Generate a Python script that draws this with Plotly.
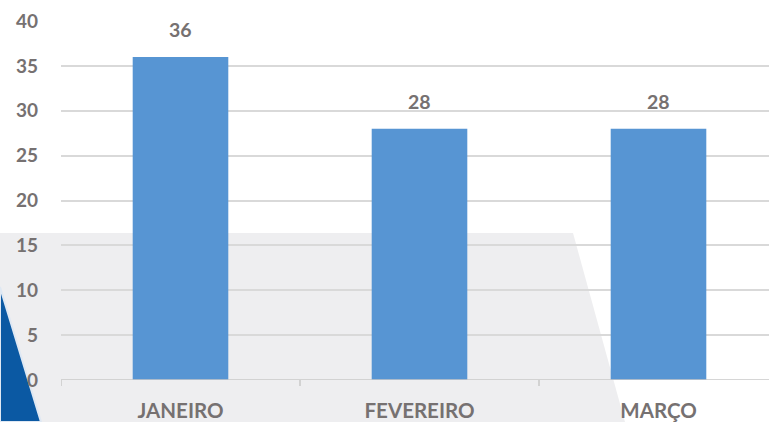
import plotly.graph_objects as go

categories = ["JANEIRO", "FEVEREIRO", "MARÇO"]
values = [36, 28, 28]
y_ticks = [0, 5, 10, 15, 20, 25, 30, 35, 40]

W, H = 769, 422
X0, X1, Y0, Y1 = 61, 769, 21, 380
L, T = X0, Y0
pw, ph = X1 - X0, Y1 - Y0
R = W - L - pw
B = H - T - ph

def px(x):
    return (x - X0) / pw

def py(y):
    return (Y1 - y) / ph

text_color = "#767171"
font_family = "Lato, 'Open Sans', sans-serif"

fig = go.Figure()
fig.add_trace(go.Bar(
    x=[0, 1, 2],
    y=values,
    width=0.40,
    marker=dict(color="#5795d3", line=dict(width=0)),
    cliponaxis=False,
))

for i, v in enumerate(values):
    fig.add_annotation(x=i, y=v, text=str(v), showarrow=False, yanchor="bottom",
                       yshift=14,
                       font=dict(size=19.5, color=text_color, family=font_family, weight="bold"))

shapes = [
    dict(type="path", xref="paper", yref="paper", layer="below",
         path=f"M {px(0)} {py(233)} L {px(573)} {py(233)} L {px(625)} {py(422)} L {px(0)} {py(422)} Z",
         fillcolor="#eeeef0", line=dict(width=0)),
    dict(type="path", xref="paper", yref="paper", layer="below",
         path=f"M {px(0)} {py(287)} L {px(41)} {py(422)} L {px(0)} {py(422)} Z",
         fillcolor="#0b59a3", line=dict(color="#dfe8f3", width=2)),
]

fig.update_layout(
    width=W, height=H,
    margin=dict(l=L, r=R, t=T, b=B, pad=0, autoexpand=False),
    paper_bgcolor="white",
    plot_bgcolor="rgba(0,0,0,0)",
    showlegend=False,
    shapes=shapes,
    xaxis=dict(
        range=[-0.5, -0.5 + pw / 239.0],
        tickvals=[0, 1, 2],
        ticktext=categories,
        showgrid=False,
        zeroline=False,
        showline=False,
        ticks="",
        automargin=False,
        tickfont=dict(size=20.5, color=text_color, family=font_family, weight="bold"),
        ticklabelstandoff=16,
    ),
    yaxis=dict(
        range=[0, 40],
        tickvals=y_ticks,
        showgrid=True,
        gridcolor="#d9d9d9",
        gridwidth=1.5,
        zeroline=False,
        showline=False,
        ticks="",
        automargin=False,
        tickfont=dict(size=19, color=text_color, family=font_family, weight="bold"),
        ticklabelstandoff=22,
    ),
)

fig.add_shape(type="line", xref="paper", yref="y", x0=0, x1=1, y0=0, y1=0,
              line=dict(color="#c8c8c8", width=1.5), layer="above")
for b in [-0.5, 0.5, 1.5]:
    fig.add_shape(type="line", xref="x", yref="paper", x0=b, x1=b, y0=0, y1=-6 / ph,
                  line=dict(color="#c8c8c8", width=1.5))

fig.write_html("out.html", config={"displayModeBar": False},
               post_script="document.body.style.margin='0';")
